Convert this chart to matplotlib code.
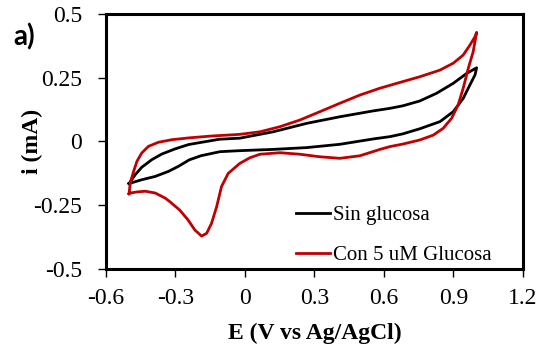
import matplotlib.pyplot as plt

# Sin glucosa: forward branch (-0.5 -> 1.0) then reverse branch (1.0 -> -0.5)
e_sin = [-0.500, -0.473, -0.445, -0.401, -0.358, -0.301, -0.243, -0.186, -0.108, -0.022,
         0.122, 0.266, 0.410, 0.554, 0.626, 0.682, 0.755, 0.827, 0.899, 0.957, 1.0,
         0.993, 0.971, 0.942, 0.899, 0.842, 0.755, 0.682, 0.626, 0.554, 0.410, 0.266,
         0.122, -0.022, -0.108, -0.19, -0.24, -0.286, -0.329, -0.387, -0.445, -0.500]
i_sin = [-0.165, -0.130, -0.101, -0.071, -0.049, -0.029, -0.012, -0.003, 0.009, 0.013,
         0.038, 0.071, 0.097, 0.120, 0.130, 0.140, 0.159, 0.189, 0.228, 0.267, 0.289,
         0.261, 0.222, 0.169, 0.117, 0.078, 0.050, 0.030, 0.019, 0.010, -0.011, -0.024,
         -0.031, -0.036, -0.040, -0.056, -0.072, -0.097, -0.117, -0.137, -0.150, -0.165]

# Con 5 uM Glucosa
e_con = [-0.500, -0.494, -0.480, -0.466, -0.445, -0.416, -0.373, -0.315, -0.243, -0.151,
         -0.022, 0.065, 0.151, 0.237, 0.324, 0.410, 0.496, 0.583, 0.682, 0.755, 0.842,
         0.899, 0.942, 0.971, 0.993, 1.0,
         0.985, 0.964, 0.942, 0.920, 0.892, 0.856, 0.813, 0.755, 0.682, 0.626, 0.583,
         0.496, 0.410, 0.324, 0.237, 0.151, 0.065, 0.021, -0.022, -0.072, -0.101, -0.122,
         -0.144, -0.165, -0.187, -0.216, -0.245, -0.281, -0.324, -0.344, -0.387, -0.430,
         -0.467, -0.495, -0.500]
i_con = [-0.205, -0.160, -0.117, -0.078, -0.045, -0.019, -0.003, 0.007, 0.014, 0.021,
         0.028, 0.038, 0.058, 0.084, 0.117, 0.150, 0.182, 0.209, 0.235, 0.254, 0.280,
         0.307, 0.339, 0.378, 0.411, 0.428,
         0.352, 0.287, 0.209, 0.143, 0.091, 0.052, 0.025, 0.006, -0.010, -0.020, -0.031,
         -0.056, -0.066, -0.060, -0.050, -0.044, -0.050, -0.064, -0.086, -0.125, -0.177,
         -0.256, -0.321, -0.360, -0.371, -0.347, -0.308, -0.269, -0.236, -0.222, -0.202,
         -0.195, -0.198, -0.202, -0.205]

xticks = [-0.6, -0.3, 0, 0.3, 0.6, 0.9, 1.2]
xtick_labels = ["-0.6", "-0.3", "0", "0.3", "0.6", "0.9", "1.2"]
yticks = [-0.5, -0.25, 0, 0.25, 0.5]
ytick_labels = ["-0.5", "-0.25", "0", "0.25", "0.5"]

plt.rcParams["font.family"] = "Liberation Serif"

fig = plt.figure(figsize=(5.4, 3.47), dpi=100)
ax = fig.add_axes([0.196, 0.2248, 0.7725, 0.7349])

ax.plot(e_sin, i_sin, color="black", lw=2, solid_joinstyle="round", label="Sin glucosa")
ax.plot(e_con, i_con, color="#C00000", lw=2, solid_joinstyle="round", label="Con 5 uM Glucosa")

ax.set_xlim(-0.6, 1.2)
ax.set_ylim(-0.5, 0.5)
ax.set_xticks(xticks)
ax.set_xticklabels(xtick_labels)
ax.set_yticks(yticks)
ax.set_yticklabels(ytick_labels)
ax.tick_params(axis="both", direction="out", length=6, width=1, labelsize=17)
ax.tick_params(axis="x", pad=8)
ax.tick_params(axis="y", pad=11)
for s in ax.spines.values():
    s.set_linewidth(2.2)

ax.set_xlabel("E (V vs Ag/AgCl)", fontsize=17, fontweight="bold")
ax.set_ylabel("i (mA)", fontsize=17, fontweight="bold")
ax.xaxis.set_label_coords(0.5, -0.21)
ax.yaxis.set_label_coords(-0.151, 0.5)

ax.legend(loc="lower left", bbox_to_anchor=(0.456, 0.014), frameon=False,
          fontsize=15, handlelength=1.63, handletextpad=0.15, labelspacing=1.0,
          borderpad=0, borderaxespad=0)

fig.text(0.044, 0.895, "a)", fontsize=20, fontweight="bold", family="Lato",
         ha="center", va="center")

fig.savefig("out.png", dpi=100)
